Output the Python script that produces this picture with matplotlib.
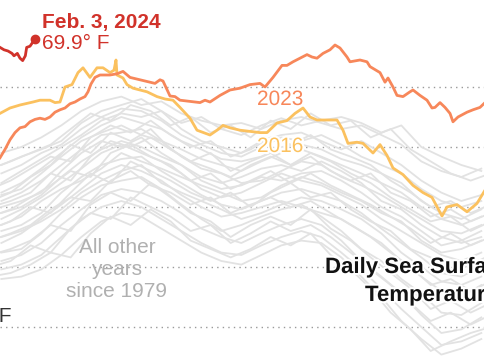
import matplotlib.pyplot as plt
import matplotlib.patheffects as pe

plt.rcParams['font.family'] = ['Liberation Sans', 'DejaVu Sans']

# day of year (Jan 1 = 0) and temperature in deg F
days_2024 = [7, 10, 13, 16, 17.5, 20, 22, 24, 26, 27, 29.5, 32, 33]
temp_2024 = [69.83, 69.81, 69.80, 69.78, 69.76, 69.78, 69.74, 69.72, 69.76, 69.83, 69.84, 69.88, 69.90]

days_2023 = [7, 10.75, 14.5, 18.25, 22, 25.75, 29.5, 33.25, 37, 40.75, 44.5, 48.25, 52, 55.75,
             59.5, 63.25, 67, 70.75, 73, 75.25, 78.25, 82, 89.5, 94.75, 99.25, 104.5, 112, 119.5,
             123.25, 127, 129.25, 134.5, 138.25, 142, 149.5, 157, 160.75, 164.5, 172, 179.5, 187,
             194.5, 202, 205.75, 211.75, 218.5, 222.25, 226.75, 232, 237.25, 241, 244.75, 249.25,
             254.5, 258.25, 262, 267.25, 269.5, 277, 282.25, 284.5, 292, 295.75, 298, 301.75,
             304.75, 309.25, 314.5, 316.75, 322, 327.25, 331, 333.25, 337, 340.75, 344.5, 346.75,
             350.5, 357.25, 361.75, 367, 370.75]
temp_2023 = [68.91, 68.98, 69.06, 69.12, 69.16, 69.17, 69.21, 69.23, 69.24, 69.23, 69.25, 69.29,
             69.31, 69.325, 69.36, 69.375, 69.40, 69.42, 69.46, 69.525, 69.58, 69.60, 69.60, 69.61,
             69.63, 69.58, 69.56, 69.54, 69.53, 69.56, 69.55, 69.425, 69.42, 69.39, 69.38, 69.37,
             69.39, 69.375, 69.43, 69.475, 69.49, 69.52, 69.53, 69.50, 69.58, 69.68, 69.68, 69.71,
             69.74, 69.77, 69.75, 69.74, 69.78, 69.81, 69.85, 69.825, 69.75, 69.71, 69.725, 69.71,
             69.67, 69.62, 69.54, 69.575, 69.50, 69.43, 69.42, 69.46, 69.475, 69.43, 69.39, 69.325,
             69.33, 69.37, 69.33, 69.28, 69.21, 69.25, 69.29, 69.31, 69.33, 69.37]

days_2016 = [7, 14.5, 22, 31.75, 37, 44.5, 48.25, 52, 55.75, 61, 65.5, 69.25, 74.5, 79.75, 84.25,
             89.5, 92.5, 94, 94.75, 99.25, 102.25, 106.75, 112, 117.25, 124.75, 130.75, 136.75,
             142, 149.5, 154.75, 164.5, 169.75, 174.25, 179.5, 187, 194.5, 202, 207.25, 214.75,
             222.25, 228.25, 234.25, 239.5, 244.75, 259.75, 264.25, 268, 274.75, 279.25, 286.75,
             292, 297.25, 301.75, 309.25, 316.75, 324.25, 331, 338.5, 342.25, 349.75, 357.25,
             364.75, 370.75]
temp_2016 = [69.28, 69.325, 69.35, 69.375, 69.39, 69.39, 69.37, 69.375, 69.50, 69.52, 69.62, 69.66,
             69.58, 69.66, 69.66, 69.62, 69.64, 69.725, 69.60, 69.575, 69.52, 69.49, 69.475, 69.46,
             69.42, 69.40, 69.39, 69.33, 69.24, 69.14, 69.10, 69.14, 69.18, 69.16, 69.14, 69.13,
             69.12, 69.12, 69.20, 69.22, 69.28, 69.325, 69.25, 69.225, 69.225, 69.14, 69.03, 69.04,
             69.03, 68.95, 69.02, 68.93, 68.825, 68.77, 68.68, 68.62, 68.58, 68.425, 68.50, 68.52,
             68.46, 68.53, 68.64]

# all other years since 1979, sampled every 15 days (two offset sets)
days_other = [8, 23, 38, 53, 68, 83, 98, 113, 128, 143, 158, 173, 188, 203, 218, 233, 248, 263,
              278, 293, 308, 323, 338, 353, 368]
temps_other = [
    [68.95, 69.00, 69.08, 69.18, 69.30, 69.38, 69.42, 69.35, 69.38, 69.28, 69.22, 69.18, 69.20,
     69.15, 69.22, 69.25, 69.20, 69.15, 69.18, 69.10, 69.02, 68.88, 68.80, 68.75, 68.82],
    [68.85, 68.92, 68.98, 69.05, 69.20, 69.30, 69.35, 69.40, 69.30, 69.20, 69.25, 69.15, 69.10,
     69.18, 69.24, 69.18, 69.22, 69.25, 69.20, 69.12, 69.18, 69.00, 68.92, 68.85, 68.80],
    [68.70, 68.80, 68.90, 69.00, 69.10, 69.22, 69.28, 69.25, 69.30, 69.15, 69.05, 69.00, 68.95,
     69.05, 69.10, 69.12, 69.05, 68.98, 69.05, 68.95, 68.85, 68.72, 68.62, 68.55, 68.60],
    [68.60, 68.65, 68.78, 68.92, 69.05, 69.12, 69.18, 69.10, 69.05, 68.98, 68.90, 68.85, 68.80,
     68.88, 68.95, 68.98, 68.92, 68.85, 68.78, 68.70, 68.62, 68.50, 68.40, 68.35, 68.42],
    [68.50, 68.55, 68.62, 68.80, 68.95, 69.05, 69.00, 69.08, 68.95, 68.85, 68.75, 68.70, 68.75,
     68.82, 68.85, 68.80, 68.88, 68.80, 68.70, 68.55, 68.48, 68.35, 68.25, 68.20, 68.25],
    [68.40, 68.48, 68.58, 68.70, 68.82, 68.95, 69.02, 68.95, 68.88, 68.78, 68.65, 68.58, 68.62,
     68.70, 68.78, 68.72, 68.68, 68.60, 68.52, 68.40, 68.30, 68.20, 68.10, 68.05, 68.12],
    [68.30, 68.35, 68.45, 68.62, 68.75, 68.85, 68.90, 68.92, 68.80, 68.70, 68.60, 68.52, 68.48,
     68.55, 68.62, 68.65, 68.60, 68.55, 68.45, 68.32, 68.20, 68.08, 67.95, 67.92, 68.00],
    [68.20, 68.28, 68.40, 68.52, 68.65, 68.78, 68.85, 68.80, 68.72, 68.60, 68.50, 68.42, 68.45,
     68.50, 68.55, 68.50, 68.45, 68.40, 68.30, 68.20, 68.05, 67.92, 67.80, 67.75, 67.85],
    [68.12, 68.15, 68.28, 68.45, 68.58, 68.68, 68.72, 68.75, 68.65, 68.52, 68.40, 68.30, 68.35,
     68.42, 68.48, 68.52, 68.42, 68.30, 68.15, 68.05, 67.90, 67.78, 67.62, 67.60, 67.70],
    [68.05, 68.10, 68.20, 68.35, 68.48, 68.60, 68.65, 68.62, 68.55, 68.45, 68.32, 68.25, 68.20,
     68.28, 68.35, 68.40, 68.35, 68.22, 68.05, 67.92, 67.78, 67.60, 67.45, 67.48, 67.58],
    [67.90, 67.92, 67.98, 68.10, 68.25, 68.38, 68.45, 68.42, 68.32, 68.22, 68.12, 68.05, 68.02,
     68.10, 68.18, 68.22, 68.20, 68.08, 67.92, 67.75, 67.55, 67.40, 67.27, 67.32, 67.40],
    [67.98, 68.02, 68.10, 68.25, 68.40, 68.50, 68.55, 68.50, 68.40, 68.30, 68.20, 68.12, 68.10,
     68.18, 68.25, 68.30, 68.25, 68.12, 67.98, 67.82, 67.65, 67.50, 67.35, 67.38, 67.45],
    [68.35, 68.42, 68.55, 68.65, 68.72, 68.82, 68.95, 68.88, 68.82, 68.75, 68.68, 68.62, 68.55,
     68.58, 68.68, 68.75, 68.70, 68.62, 68.55, 68.45, 68.38, 68.22, 68.12, 68.15, 68.22],
    [68.55, 68.62, 68.72, 68.85, 68.98, 69.10, 69.12, 69.15, 69.05, 68.92, 68.82, 68.78, 68.70,
     68.72, 68.80, 68.88, 68.85, 68.75, 68.68, 68.60, 68.50, 68.40, 68.30, 68.28, 68.35],
    [68.78, 68.85, 68.95, 69.02, 69.15, 69.25, 69.32, 69.30, 69.22, 69.10, 69.02, 68.95, 68.92,
     69.00, 69.08, 69.05, 69.10, 69.02, 68.92, 68.85, 68.78, 68.65, 68.55, 68.50, 68.55],
    [68.25, 68.30, 68.38, 68.48, 68.62, 68.72, 68.80, 68.85, 68.70, 68.62, 68.55, 68.48, 68.40,
     68.45, 68.52, 68.58, 68.55, 68.48, 68.40, 68.28, 68.12, 68.00, 67.88, 67.85, 67.92],
    [68.45, 68.50, 68.60, 68.75, 68.88, 68.98, 69.05, 69.00, 68.92, 68.85, 68.72, 68.65, 68.68,
     68.75, 68.72, 68.78, 68.80, 68.72, 68.62, 68.50, 68.42, 68.30, 68.18, 68.22, 68.30],
    [68.62, 68.70, 68.82, 68.95, 69.08, 69.18, 69.25, 69.20, 69.15, 69.05, 68.98, 68.90, 68.88,
     68.92, 69.00, 69.02, 68.98, 68.90, 68.85, 68.78, 68.70, 68.55, 68.45, 68.40, 68.48],
]

days_other2 = [0, 15, 30, 45, 60, 75, 90, 105, 120, 135, 150, 165, 180, 195, 210, 225, 240, 255,
               270, 285, 300, 315, 330, 345, 360, 375]
temps_other2 = [
    [68.82, 68.88, 68.95, 69.02, 69.15, 69.28, 69.22, 69.35, 69.30, 69.18, 69.25, 69.12, 69.18,
     69.08, 69.22, 69.15, 69.28, 69.18, 69.22, 69.08, 69.15, 68.98, 68.88, 68.78, 68.72, 68.78],
    [68.55, 68.62, 68.75, 68.85, 69.02, 68.95, 69.12, 69.05, 69.15, 68.98, 68.88, 68.95, 68.80,
     68.88, 68.95, 68.85, 68.92, 68.80, 68.72, 68.78, 68.62, 68.55, 68.42, 68.48, 68.38, 68.45],
    [68.32, 68.38, 68.50, 68.45, 68.62, 68.78, 68.70, 68.88, 68.80, 68.72, 68.62, 68.55, 68.62,
     68.50, 68.62, 68.70, 68.58, 68.62, 68.48, 68.38, 68.30, 68.15, 68.08, 67.95, 68.02, 68.10],
    [68.10, 68.15, 68.22, 68.35, 68.30, 68.52, 68.62, 68.55, 68.70, 68.58, 68.45, 68.38, 68.25,
     68.35, 68.42, 68.35, 68.48, 68.32, 68.22, 68.08, 67.95, 67.82, 67.65, 67.72, 67.62, 67.70],
    [67.92, 67.95, 68.02, 68.12, 68.08, 68.28, 68.42, 68.35, 68.48, 68.38, 68.22, 68.15, 68.08,
     68.15, 68.25, 68.18, 68.28, 68.10, 67.98, 67.82, 67.62, 67.48, 67.30, 67.38, 67.45, 67.50],
    [68.42, 68.48, 68.58, 68.68, 68.80, 68.75, 68.95, 69.02, 68.92, 68.85, 68.72, 68.78, 68.65,
     68.72, 68.80, 68.70, 68.78, 68.68, 68.60, 68.52, 68.42, 68.32, 68.20, 68.28, 68.18, 68.25],
    [68.65, 68.72, 68.82, 68.92, 68.88, 69.08, 69.18, 69.12, 69.22, 69.10, 69.00, 69.05, 68.92,
     68.98, 69.08, 69.02, 69.10, 68.98, 68.92, 68.85, 68.72, 68.62, 68.50, 68.55, 68.45, 68.52],
    [68.22, 68.28, 68.35, 68.48, 68.58, 68.55, 68.72, 68.80, 68.68, 68.62, 68.52, 68.58, 68.45,
     68.52, 68.58, 68.50, 68.55, 68.45, 68.35, 68.25, 68.12, 68.00, 67.85, 67.90, 67.80, 67.88],
    [68.00, 68.05, 68.18, 68.12, 68.32, 68.45, 68.40, 68.58, 68.50, 68.42, 68.30, 68.35, 68.20,
     68.28, 68.38, 68.30, 68.35, 68.25, 68.12, 67.98, 67.85, 67.70, 67.55, 67.62, 67.52, 67.60],
    [68.50, 68.55, 68.62, 68.78, 68.72, 68.92, 69.05, 69.00, 69.08, 68.98, 68.88, 68.82, 68.75,
     68.85, 68.92, 68.85, 68.95, 68.88, 68.78, 68.70, 68.58, 68.48, 68.38, 68.42, 68.30, 68.38],
]

grid_levels = [67.5, 68.0, 68.5, 69.0, 69.5]

red = '#d1322a'
orange = '#f7875a'
yellow = '#fbc15f'

fig = plt.figure(figsize=(4.85, 3.6), dpi=100)
ax = fig.add_axes([0, 0, 1, 1])
ax.set_xlim(7, 370.75)
ax.set_ylim(67.225, 70.225)
ax.axis('off')

for g in grid_levels:
    ax.axhline(g, color='#9a9a9a', lw=1, dashes=(1, 3), zorder=1)

for t in temps_other:
    ax.plot(days_other, t, color='#e2e2e2', lw=1.3, zorder=2)
for t in temps_other2:
    ax.plot(days_other2, t, color='#e2e2e2', lw=1.3, zorder=2)

ax.plot(days_2016, temp_2016, color=yellow, lw=2, zorder=3)
ax.plot(days_2023, temp_2023, color=orange, lw=2, zorder=4)
ax.plot(days_2024, temp_2024, color=red, lw=2, zorder=5)
ax.plot(days_2024[-1], temp_2024[-1], 'o', color=red, ms=6, zorder=6)

halo = [pe.withStroke(linewidth=3, foreground='white')]


def label(px, py, s, **kw):
    # place text by pixel position (top-left origin)
    return ax.annotate(s, xy=(px, 360 - py), xycoords='figure pixels', va='baseline', zorder=10, **kw)


label(42, 28, 'Feb. 3, 2024', color=red, fontsize=15, fontweight='bold')
label(42, 49, '69.9° F', color=red, fontsize=15)
label(257, 105, '2023', color=orange, fontsize=15, path_effects=halo)
label(257, 152, '2016', color=yellow, fontsize=15, path_effects=halo)
label(117, 297, 'All other\nyears\nsince 1979', color='#b0b0b0', fontsize=15,
      ha='center', multialignment='center', linespacing=1.2)
label(325, 273, 'Daily Sea Surface', color='#121212', fontsize=16,
      fontweight='bold', path_effects=halo)
label(365, 301, 'Temperature', color='#121212', fontsize=16,
      fontweight='bold', path_effects=halo)
label(11, 322, '67.5° F', color='#333333', fontsize=15, ha='right')

fig.savefig('out.png', dpi=100)
